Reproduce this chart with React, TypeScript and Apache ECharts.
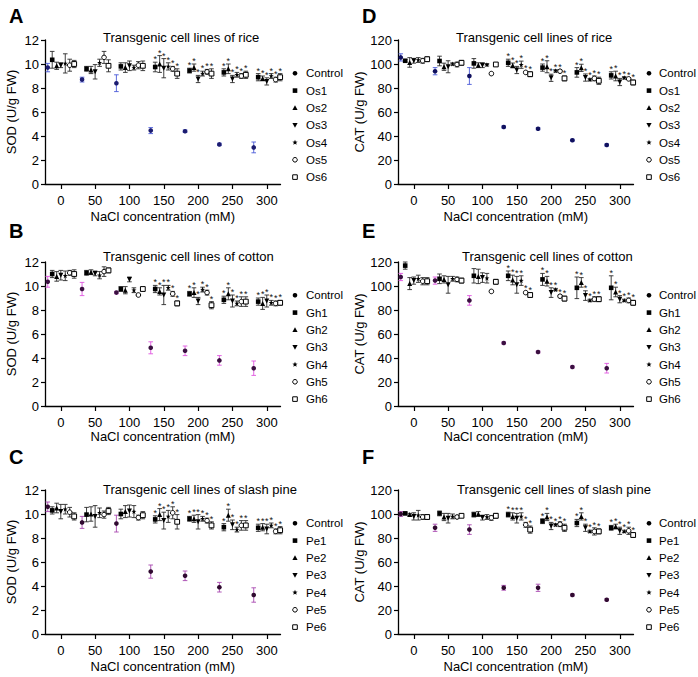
import React, { useEffect, useRef } from "react";
import * as echarts from "echarts";

// ---------------- DATA ----------------
const concentrations = [0, 50, 100, 150, 200, 250, 300];
const tickValues = [0, 50, 100, 150, 200, 250, 300];
const significantConcentrations = [150, 200, 250, 300];

const riceLines = ["Control", "Os1", "Os2", "Os3", "Os4", "Os5", "Os6"];
const cottonLines = ["Control", "Gh1", "Gh2", "Gh3", "Gh4", "Gh5", "Gh6"];
const pineLines = ["Control", "Pe1", "Pe2", "Pe3", "Pe4", "Pe5", "Pe6"];

// A: SOD, rice
const sodRiceMean = [
  [9.7, 8.7, 8.4, 4.45, 4.4, 3.3, 3.05],
  [10.35, 9.6, 9.8, 9.75, 9.45, 9.3, 8.9],
  [9.85, 9.5, 9.7, 10.0, 9.7, 9.6, 8.8],
  [9.9, 9.35, 9.85, 9.65, 8.75, 8.75, 8.55],
  [10.05, 10.1, 9.7, 9.8, 9.2, 9.1, 9.0],
  [9.9, 10.55, 9.9, 9.6, 9.35, 9.0, 8.7],
  [10.0, 9.85, 9.85, 9.2, 9.2, 9.1, 8.9],
];
const sodRiceErr = [
  [0.35, 0.2, 0.7, 0.25, 0.1, 0.1, 0.45],
  [0.7, 0.2, 0.3, 0.4, 0.2, 0.3, 0.3],
  [0.3, 0.3, 0.4, 0.7, 0.3, 0.4, 0.2],
  [0.2, 0.6, 0.4, 0.8, 0.3, 0.3, 0.3],
  [0.8, 0.3, 0.2, 0.3, 0.2, 0.2, 0.2],
  [0.5, 0.5, 0.3, 0.2, 0.2, 0.2, 0.2],
  [0.3, 0.5, 0.4, 0.4, 0.4, 0.3, 0.3],
];

// B: SOD, cotton
const sodCottonMean = [
  [10.35, 9.75, 9.45, 4.85, 4.6, 3.8, 3.15],
  [11.0, 11.1, 9.75, 9.75, 9.35, 8.85, 8.7],
  [10.8, 11.15, 9.65, 9.55, 9.45, 9.35, 8.55],
  [10.9, 11.05, 10.55, 9.25, 8.75, 8.75, 8.75],
  [10.85, 10.9, 9.65, 9.85, 9.7, 8.55, 8.6],
  [11.1, 11.2, 9.25, 9.35, 9.45, 8.7, 8.55],
  [11.0, 11.3, 9.75, 8.55, 8.4, 8.7, 8.6],
];
const sodCottonErr = [
  [0.45, 0.55, 0.1, 0.5, 0.4, 0.4, 0.6],
  [0.3, 0.2, 0.2, 0.3, 0.2, 0.3, 0.3],
  [0.4, 0.2, 0.3, 0.3, 0.4, 0.5, 0.5],
  [0.4, 0.2, 0.2, 0.8, 0.3, 0.5, 0.5],
  [0.4, 0.3, 0.2, 0.2, 0.2, 0.2, 0.2],
  [0.2, 0.4, 0.1, 0.2, 0.2, 0.4, 0.2],
  [0.35, 0.2, 0.15, 0.2, 0.3, 0.4, 0.2],
];

// C: SOD, slash pine
const sodPineMean = [
  [10.6, 9.3, 9.2, 5.2, 4.85, 3.9, 3.25],
  [10.3, 9.95, 10.0, 9.55, 9.6, 8.9, 8.85],
  [10.5, 10.0, 10.2, 9.95, 9.6, 9.9, 8.9],
  [10.2, 9.8, 10.25, 9.45, 9.35, 9.1, 8.75],
  [10.4, 10.1, 10.2, 9.8, 9.6, 8.7, 9.05],
  [10.15, 9.95, 9.7, 10.1, 9.45, 9.05, 8.55],
  [9.8, 10.25, 9.9, 9.35, 9.05, 9.05, 8.65],
];
const sodPineErr = [
  [0.4, 0.5, 0.7, 0.55, 0.4, 0.4, 0.6],
  [0.3, 0.6, 0.4, 0.3, 0.2, 0.3, 0.3],
  [0.4, 0.6, 0.5, 0.5, 0.3, 0.5, 0.3],
  [0.6, 0.9, 0.5, 0.7, 0.6, 0.4, 0.4],
  [0.4, 0.4, 0.5, 0.5, 0.2, 0.2, 0.2],
  [0.4, 0.3, 0.2, 0.5, 0.2, 0.4, 0.2],
  [0.3, 0.3, 0.3, 0.6, 0.3, 0.4, 0.3],
];

// D: CAT, rice
const catRiceMean = [
  [105.5, 94, 90, 47.5, 46, 36.5, 32.5],
  [102.7, 102.5, 100.5, 101, 97, 93, 90.5],
  [101.3, 97.7, 99, 98.8, 97.7, 96.8, 90],
  [102.7, 97.7, 99, 95, 88.5, 88.7, 85],
  [103.3, 100, 99.4, 99.4, 94.3, 87, 88.5],
  [102.7, 99.6, 92, 93, 94, 88, 87.6],
  [104, 101, 99.6, 91.5, 88, 86, 84.6],
];
const catRiceErr = [
  [3, 3, 7, 0.8, 0.8, 0.8, 0.8],
  [1, 4, 4, 3, 3, 4, 3],
  [4, 3, 2, 2, 5, 3, 4],
  [2, 5, 2, 3, 3, 3, 3],
  [2, 1, 1, 3, 1, 1, 1],
  [2, 2, 1, 1, 1, 2, 1],
  [2, 2, 1, 2, 2, 3, 2],
];

// E: CAT, cotton
const catCottonMean = [
  [107.5, 104.5, 88, 52.5, 45, 32.5, 31.5],
  [117, 106, 108.5, 108.5, 105.5, 98.5, 98.5],
  [102, 105.5, 108, 105, 104, 103, 95],
  [104.5, 101, 107, 101, 94.5, 92, 89],
  [106, 106, 106.5, 104.5, 97, 88, 88],
  [104, 105.5, 95.5, 94.5, 91.5, 89, 88],
  [104, 104.5, 103.5, 92.5, 89.5, 89, 86],
];
const catCottonErr = [
  [3, 3, 4, 0.8, 0.8, 0.8, 4],
  [3, 4, 6, 4, 5, 9, 10],
  [5, 3, 6, 4, 4, 4, 4],
  [3, 7, 4, 7, 4, 4, 3],
  [3, 2, 4, 4, 1, 1, 1],
  [3, 2, 1, 1, 1, 2, 2],
  [3, 2, 2, 2, 2, 2, 2],
];

// F: CAT, slash pine
const catPineMean = [
  [100, 88.5, 87, 38.5, 38.5, 32.5, 28.5],
  [100.5, 100.5, 99.5, 99.5, 94, 92.5, 88.5],
  [99.5, 97.5, 100, 98, 97.5, 98, 89.5],
  [98, 96.5, 97, 96.5, 90, 88.5, 86],
  [99, 98, 97.5, 98, 91, 85.5, 85.5],
  [97.5, 97.5, 96.8, 91, 91.5, 85.5, 86],
  [97.5, 98.5, 98.5, 87, 88.5, 85.5, 82.5],
];
const catPineErr = [
  [2, 3, 4, 2, 3, 0.8, 0.8],
  [1, 2, 2, 2, 2, 3, 2],
  [1, 3, 2, 3, 3, 3, 2],
  [3, 4, 2, 4, 3, 3, 3],
  [4, 2, 2, 3, 1, 1, 1],
  [2, 1, 2, 2, 2, 3, 3],
  [2, 1, 2, 3, 3, 2, 2],
];

// ---------------- LAYOUT / STYLE ----------------
const FONT = "'Liberation Sans', Arial, Helvetica, sans-serif";
const xOffsets = [-19, -12.5, -6, 0, 6.5, 13, 19.5];
const STAR =
  "path://M5,0L6.18,3.38L10,3.45L6.9,5.7L8.09,9.55L5,7.3L1.91,9.55L3.1,5.7L0,3.45L3.82,3.38Z";
const DOWN = "path://M0,0L10,0L5,9Z";
const markerSymbols = ["circle", "rect", "triangle", DOWN, STAR, "circle", "rect"];
const markerSizes = [4.6, 4.6, 5, 5, 5, 4.6, 4.8];
const hollow = [false, false, false, false, false, true, true];

const rowTop = [40, 262, 490];
const plotH = 144;
const colLeft = [45, 398];
const plotW = 235.5;
const letterY = [15.5, 230.5, 457];
const titleY = [37, 256, 489];
const xNameGap = [26, 21, 25.5];
const legendMarkX = [295, 649];
const legendTextX = [306, 659];

const panels = [
  { letter: "A", row: 0, col: 0, title: "Transgenic cell lines of rice", titleX: 103, yName: "SOD (U/g FW)", yMax: 12, yInt: 2, mean: sodRiceMean, err: sodRiceErr, names: riceLines, ctrl: "#1c1c70", bar: "#4a5ad8" },
  { letter: "B", row: 1, col: 0, title: "Transgenic cell lines of cotton", titleX: 103, yName: "SOD (U/g FW)", yMax: 12, yInt: 2, mean: sodCottonMean, err: sodCottonErr, names: cottonLines, ctrl: "#3a1040", bar: "#e055e0" },
  { letter: "C", row: 2, col: 0, title: "Transgenic cell lines of slash pine", titleX: 103, yName: "SOD (U/g FW)", yMax: 12, yInt: 2, mean: sodPineMean, err: sodPineErr, names: pineLines, ctrl: "#300a30", bar: "#a848b0" },
  { letter: "D", row: 0, col: 1, title: "Transgenic cell lines of rice", titleX: 456, yName: "CAT (U/g FW)", yMax: 120, yInt: 20, mean: catRiceMean, err: catRiceErr, names: riceLines, ctrl: "#10105e", bar: "#4a5ad8" },
  { letter: "E", row: 1, col: 1, title: "Transgenic cell lines of cotton", titleX: 462, yName: "CAT (U/g FW)", yMax: 120, yInt: 20, mean: catCottonMean, err: catCottonErr, names: cottonLines, ctrl: "#3a1040", bar: "#e055e0" },
  { letter: "F", row: 2, col: 1, title: "Transgenic cell lines of slash pine", titleX: 457, yName: "CAT (U/g FW)", yMax: 120, yInt: 20, mean: catPineMean, err: catPineErr, names: pineLines, ctrl: "#300a30", bar: "#a848b0" },
];

function legendShape(i: number, cx: number, cy: number): any {
  const s = 2.3;
  const base = { silent: true, z: 10 };
  if (i === 0) return { ...base, type: "circle", shape: { cx, cy, r: s }, style: { fill: "#000" } };
  if (i === 1) return { ...base, type: "rect", shape: { x: cx - s, y: cy - s, width: 2 * s, height: 2 * s }, style: { fill: "#000" } };
  if (i === 2) return { ...base, type: "polygon", shape: { points: [[cx, cy - 2.6], [cx + 2.6, cy + 2.1], [cx - 2.6, cy + 2.1]] }, style: { fill: "#000" } };
  if (i === 3) return { ...base, type: "polygon", shape: { points: [[cx - 2.6, cy - 2.1], [cx + 2.6, cy - 2.1], [cx, cy + 2.6]] }, style: { fill: "#000" } };
  if (i === 4) {
    const pts: number[][] = [];
    for (let k = 0; k < 10; k++) {
      const r = k % 2 === 0 ? 2.8 : 1.2;
      const a = -Math.PI / 2 + (k * Math.PI) / 5;
      pts.push([cx + r * Math.cos(a), cy + r * Math.sin(a)]);
    }
    return { ...base, type: "polygon", shape: { points: pts }, style: { fill: "#000" } };
  }
  if (i === 5) return { ...base, type: "circle", shape: { cx, cy, r: s }, style: { fill: "#fff", stroke: "#000", lineWidth: 1 } };
  return { ...base, type: "rect", shape: { x: cx - s, y: cy - s, width: 2 * s, height: 2 * s }, style: { fill: "#fff", stroke: "#000", lineWidth: 1 } };
}

function buildOption(): any {
  const grid: any[] = [];
  const xAxis: any[] = [];
  const yAxis: any[] = [];
  const series: any[] = [];
  const graphic: any[] = [];

  panels.forEach((p, pi) => {
    const top = rowTop[p.row];
    const left = colLeft[p.col];
    grid.push({ left, top, width: plotW, height: plotH, containLabel: false });

    xAxis.push({
      type: "value",
      gridIndex: pi,
      min: -23,
      max: 320,
      name: "NaCl concentration (mM)",
      nameLocation: "middle",
      nameGap: xNameGap[p.row],
      nameTextStyle: { fontFamily: FONT, fontSize: 13, color: "#000" },
      axisLine: { onZero: false, lineStyle: { color: "#000", width: 1.3 } },
      axisTick: { customValues: tickValues, length: 5, lineStyle: { color: "#000", width: 1.2 } },
      axisLabel: { customValues: tickValues, margin: 10, fontFamily: FONT, fontSize: 13, color: "#000" },
      splitLine: { show: false },
    });
    yAxis.push({
      type: "value",
      gridIndex: pi,
      min: 0,
      max: p.yMax,
      interval: p.yInt,
      name: p.yName,
      nameLocation: "middle",
      nameGap: 27,
      nameTextStyle: { fontFamily: FONT, fontSize: 13, color: "#000" },
      axisLine: { show: true, onZero: false, lineStyle: { color: "#000", width: 1.3 } },
      axisTick: { show: true, length: 4, lineStyle: { color: "#000", width: 1.2 } },
      axisLabel: { margin: 6, fontFamily: FONT, fontSize: 13, color: "#000" },
      splitLine: { show: false },
    });

    // error bars + significance asterisks
    const ebData: any[] = [];
    p.names.forEach((_, li) => {
      concentrations.forEach((c, k) => {
        const m = p.mean[li][k];
        const e = p.err[li][k];
        const sig = li > 0 && significantConcentrations.indexOf(c) >= 0 ? 1 : 0;
        ebData.push([c + xOffsets[li], m - e, m + e, sig, li === 0 ? 1 : 0]);
      });
    });
    const barColor = p.bar;
    series.push({
      type: "custom",
      xAxisIndex: pi,
      yAxisIndex: pi,
      z: 2,
      silent: true,
      renderItem: (params: any, api: any) => {
        const x = api.value(0);
        const lo = api.value(1);
        const hi = api.value(2);
        const sig = api.value(3);
        const isCtrl = api.value(4);
        const t = api.coord([x, hi]);
        const b = api.coord([x, lo]);
        const col = isCtrl ? barColor : "#2a2a2a";
        const st = { stroke: col, lineWidth: 0.9 };
        const children: any[] = [
          { type: "line", shape: { x1: t[0], y1: t[1], x2: b[0], y2: b[1] }, style: st },
          { type: "line", shape: { x1: t[0] - 2.3, y1: t[1], x2: t[0] + 2.3, y2: t[1] }, style: st },
          { type: "line", shape: { x1: b[0] - 2.3, y1: b[1], x2: b[0] + 2.3, y2: b[1] }, style: st },
        ];
        if (sig) {
          children.push({
            type: "text",
            x: t[0],
            y: t[1] - 3,
            style: { text: "*", fontSize: 9, lineHeight: 8, fontFamily: FONT, fill: "#111", align: "center", verticalAlign: "middle" },
          });
        }
        return { type: "group", children };
      },
      data: ebData,
    });

    // markers
    p.names.forEach((name, li) => {
      const color = li === 0 ? p.ctrl : "#000";
      series.push({
        type: "scatter",
        name,
        xAxisIndex: pi,
        yAxisIndex: pi,
        z: 3,
        symbol: markerSymbols[li],
        symbolSize: markerSizes[li],
        itemStyle: hollow[li]
          ? { color: "#fff", borderColor: "#000", borderWidth: 1, opacity: 1 }
          : { color, opacity: 1 },
        data: concentrations.map((c, k) => [c + xOffsets[li], p.mean[li][k]]),
      });
    });

    // panel letter
    graphic.push({
      type: "text",
      x: p.col === 0 ? 9 : 362,
      y: letterY[p.row],
      style: { text: p.letter, fontSize: 20, fontWeight: "bold", fontFamily: FONT, fill: "#000", align: "left", verticalAlign: "middle" },
    });
    // title
    graphic.push({
      type: "text",
      x: p.titleX,
      y: titleY[p.row],
      z: 10,
      style: { text: p.title, fontSize: 13, lineHeight: 14, fontFamily: FONT, fill: "#000", align: "left", verticalAlign: "middle" },
    });
    // legend
    p.names.forEach((name, li) => {
      const cy = top + 33.3 + li * 17.3;
      graphic.push(legendShape(li, legendMarkX[p.col], cy));
      graphic.push({
        type: "text",
        x: legendTextX[p.col],
        y: cy,
        style: { text: name, fontSize: 11.5, fontFamily: FONT, fill: "#000", align: "left", verticalAlign: "middle" },
      });
    });
  });

  return {
    animation: false,
    backgroundColor: "#fff",
    textStyle: { fontFamily: FONT },
    grid,
    xAxis,
    yAxis,
    series,
    graphic,
  };
}

export default function App() {
  const ref = useRef<HTMLDivElement>(null);
  useEffect(() => {
    if (!ref.current) return;
    const chart = echarts.init(ref.current, null, { renderer: "svg" });
    chart.setOption(buildOption());
    return () => chart.dispose();
  }, []);
  return (
    <div
      ref={ref}
      style={{ position: "fixed", left: 0, top: 0, width: 698, height: 677, background: "#fff" }}
    />
  );
}
